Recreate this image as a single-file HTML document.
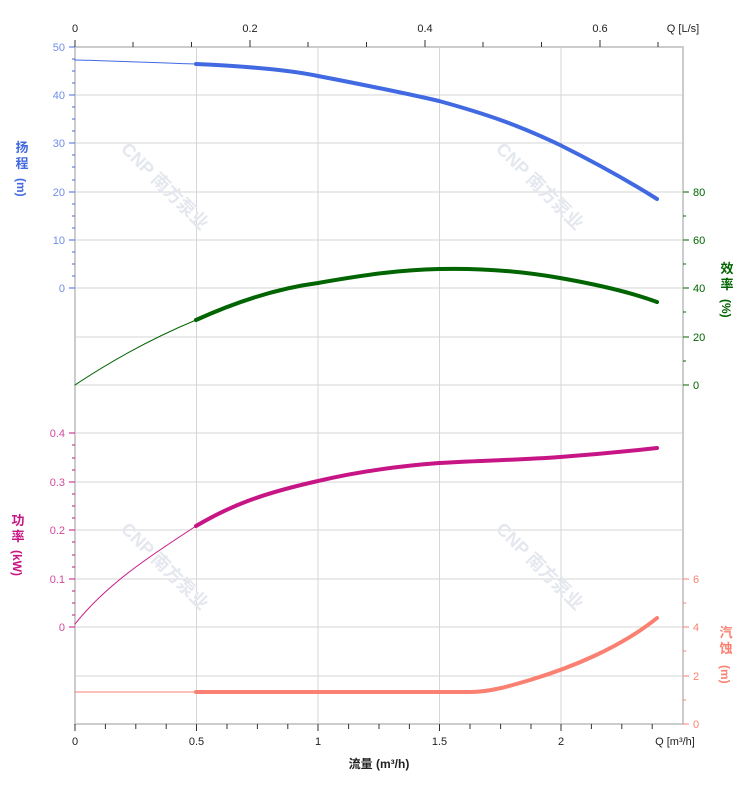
<!DOCTYPE html><html><head><style>body{margin:0;background:#fff}svg{display:block;font-family:"Liberation Sans","Noto Sans CJK SC",sans-serif}</style></head><body>
<svg width="752" height="797" viewBox="0 0 752 797">
<g stroke="#d6d6d6" stroke-width="1">
<line x1="75" y1="95" x2="683" y2="95"/><line x1="75" y1="143" x2="683" y2="143"/><line x1="75" y1="192" x2="683" y2="192"/><line x1="75" y1="240" x2="683" y2="240"/><line x1="75" y1="288" x2="683" y2="288"/><line x1="75" y1="337" x2="683" y2="337"/><line x1="75" y1="385" x2="683" y2="385"/><line x1="75" y1="433" x2="683" y2="433"/><line x1="75" y1="482" x2="683" y2="482"/><line x1="75" y1="530" x2="683" y2="530"/><line x1="75" y1="579" x2="683" y2="579"/><line x1="75" y1="627" x2="683" y2="627"/><line x1="75" y1="676" x2="683" y2="676"/>
<line x1="196.5" y1="47" x2="196.5" y2="724"/><line x1="318" y1="47" x2="318" y2="724"/><line x1="439.5" y1="47" x2="439.5" y2="724"/><line x1="561" y1="47" x2="561" y2="724"/>
</g>
<g stroke="#ccc" stroke-width="2"><line x1="75" y1="46" x2="75" y2="725"/><line x1="683" y1="46" x2="683" y2="725"/><line x1="74" y1="47" x2="684" y2="47"/><line x1="74" y1="724" x2="684" y2="724"/></g>
<g fill="#e4e8ee" font-size="18" font-weight="bold">
<text transform="translate(120,150) rotate(45)">CNP 南方泵业</text><text transform="translate(495,150) rotate(45)">CNP 南方泵业</text><text transform="translate(120,530) rotate(45)">CNP 南方泵业</text><text transform="translate(495,530) rotate(45)">CNP 南方泵业</text></g>
<g stroke="#333" stroke-width="1">
<path d="M75 40V47M133 42V47M191.5 42V47M250 40V47M308 42V47M366.5 42V47M425 40V47M483 42V47M541.5 42V47M600 40V47M658 42V47"/>
<path d="M75 724V731M105.4 724V729M135.8 724V729M166.2 724V729M196.5 724V731M227 724V729M257.4 724V729M287.8 724V729M318 724V731M348.6 724V729M379 724V729M409.4 724V729M439.5 724V731M470 724V729M500.6 724V729M531 724V729M561 724V731M591.4 724V729M621.8 724V729M652.2 724V729"/>
</g>
<g stroke="#4169e1"><path d="M69 47H75M69 95H75M69 143H75M69 192H75M69 240H75M69 288H75"/><path d="M72 59H75M72 71H75M72 83H75M72 107H75M72 119H75M72 131H75M72 155H75M72 167H75M72 180H75M72 204H75M72 216H75M72 228H75M72 252H75M72 264H75M72 276H75"/></g>
<g stroke="#c71585"><path d="M69 433H75M69 482H75M69 530H75M69 579H75M69 627H75"/><path d="M72 445H75M72 458H75M72 470H75M72 494H75M72 506H75M72 518H75M72 542H75M72 555H75M72 567H75M72 591H75M72 603H75M72 615H75"/></g>
<g stroke="#006400"><path d="M683 192H689M683 240H689M683 288H689M683 337H689M683 385H689"/><path d="M683 216H686M683 264H686M683 312H686M683 361H686"/></g>
<g stroke="#fa8072"><path d="M683 579H689M683 627H689M683 676H689M683 724H689"/><path d="M683 603H686M683 651H686M683 700H686"/></g>
<g font-size="11" text-anchor="end" fill="#6f8ee8"><text x="65" y="51">50</text><text x="65" y="99">40</text><text x="65" y="147">30</text><text x="65" y="196">20</text><text x="65" y="244">10</text><text x="65" y="292">0</text></g>
<g font-size="11" text-anchor="end" fill="#d04a9c"><text x="65" y="437">0.4</text><text x="65" y="486">0.3</text><text x="65" y="534">0.2</text><text x="65" y="583">0.1</text><text x="65" y="631">0</text></g>
<g font-size="11" fill="#006400"><text x="693" y="196">80</text><text x="693" y="244">60</text><text x="693" y="292">40</text><text x="693" y="341">20</text><text x="693" y="389">0</text></g>
<g font-size="11" fill="#fa8072"><text x="693" y="583">6</text><text x="693" y="631">4</text><text x="693" y="680">2</text><text x="693" y="728">0</text></g>
<g font-size="11" fill="#222" text-anchor="middle"><text x="75" y="32">0</text><text x="250" y="32">0.2</text><text x="425" y="32">0.4</text><text x="600" y="32">0.6</text><text x="683" y="32">Q [L/s]</text>
<text x="75" y="745">0</text><text x="196.5" y="745">0.5</text><text x="318" y="745">1</text><text x="439.5" y="745">1.5</text><text x="561" y="745">2</text><text x="675" y="745">Q [m³/h]</text></g>
<text x="379" y="768" font-size="12" font-weight="bold" text-anchor="middle" fill="#222">流量 (m³/h)</text>
<g font-size="13" font-weight="bold" text-anchor="middle">
<g fill="#4169e1"><text x="22" y="152">扬</text><text x="22" y="168">程</text><text transform="translate(17,178) rotate(90)" font-size="12" text-anchor="start">(m)</text></g>
<g fill="#c71585"><text x="18" y="525">功</text><text x="18" y="541">率</text><text transform="translate(13,550) rotate(90)" font-size="12" text-anchor="start">(kW)</text></g>
<g fill="#006400"><text x="727" y="273">效</text><text x="727" y="289">率</text><text transform="translate(722,299) rotate(90)" font-size="12" text-anchor="start">(%)</text></g>
<g fill="#fa8072"><text x="726" y="637">汽</text><text x="726" y="653">蚀</text><text transform="translate(721,665) rotate(90)" font-size="12" text-anchor="start">(m)</text></g>
</g>
<g fill="none" stroke-linecap="round">
<path d="M75 60C120 61 160 63 196 64" stroke="#4169e1" stroke-width="1"/>
<path d="M196 64C240 66 290 70 318 76C370 86 400 92 439 101C490 115 520 126 560 145C600 165 630 182 657 199" stroke="#4169e1" stroke-width="4"/>
<path d="M75 385C120 355 160 335 196 320" stroke="#006400" stroke-width="1"/>
<path d="M196 320C240 300 280 288 318 283C370 274 400 270 439 269C480 268 520 271 560 278C600 285 630 292 657 302" stroke="#006400" stroke-width="4"/>
<path d="M75 624C110 580 160 550 196 526" stroke="#c71585" stroke-width="1"/>
<path d="M196 526C230 506 260 494 318 481C360 471 400 466 439 463C490 460 520 460 560 457C600 454 630 451 657 448" stroke="#c71585" stroke-width="4"/>
<path d="M75 692H196" stroke="#fa8072" stroke-width="1"/>
<path d="M196 692H470C490 692 510 686 530 680C570 668 620 648 657 618" stroke="#fa8072" stroke-width="4"/>
</g>
</svg></body></html>
